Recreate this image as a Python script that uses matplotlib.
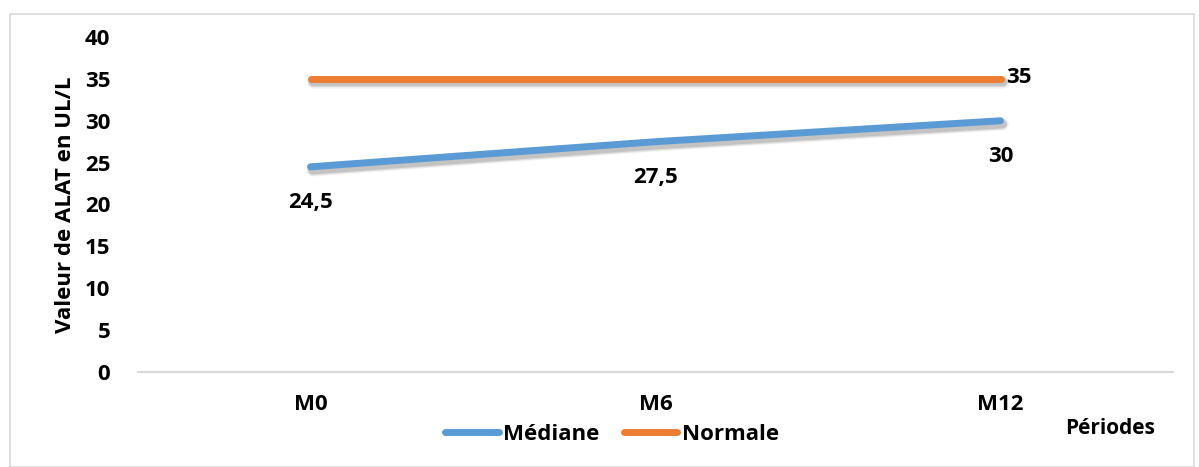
import matplotlib.pyplot as plt
import matplotlib.patheffects as pe
from matplotlib.patches import Rectangle

plt.rcParams['font.family'] = ['Open Sans', 'DejaVu Sans']
plt.rcParams['font.weight'] = 'bold'

periodes = ["M0", "M6", "M12"]
mediane = [24.5, 27.5, 30]
normale = [35, 35, 35]

blue = "#5b9bd5"
orange = "#ed7d31"
fs = 16

fig = plt.figure(figsize=(11.99, 4.67), dpi=100)
ax = fig.add_axes([138 / 1199, 1 - 372 / 467, (1173 - 138) / 1199, (372 - 37) / 467])

# gray frame around the whole chart area
fig.patches.append(Rectangle((10 / 1199, 0), 1184 / 1199, 1 - 14 / 467,
                             transform=fig.transFigure, fill=False,
                             edgecolor="#d9d9d9", linewidth=1.2))

x = range(len(periodes))
# soft drop shadow: a few offset gray strokes of growing width
shadow = [pe.Stroke(offset=(1.5, -2.5), linewidth=lw, foreground="black", alpha=a)
          for lw, a in [(9, 0.05), (7.5, 0.08), (6, 0.12)]] + [pe.Normal()]
ax.plot(x, mediane, color=blue, lw=5, solid_capstyle="round", label="Médiane",
        path_effects=shadow)
ax.plot(x, normale, color=orange, lw=5, solid_capstyle="round", label="Normale",
        path_effects=shadow)

for i, v in enumerate(mediane):
    ax.annotate(f"{v:g}".replace(".", ","), (i, v), xytext=(0, -26),
                textcoords="offset points", ha="center", va="center",
                fontsize=fs, fontweight="bold")
ax.annotate(f"{normale[-1]:g}", (2, normale[-1]), xytext=(13, 1),
            textcoords="offset points", ha="center", va="center",
            fontsize=fs, fontweight="bold")

ax.set_xlim(-0.5, 2.5)
ax.set_ylim(0, 40)
ax.set_yticks(range(0, 41, 5))
ax.set_xticks(list(x))
ax.set_xticklabels(periodes, fontweight="bold")
for t in ax.get_yticklabels():
    t.set_fontweight("bold")
ax.tick_params(axis="both", length=0, labelsize=fs)
ax.tick_params(axis="y", pad=20)
ax.tick_params(axis="x", pad=16)

for s in ["top", "right", "left"]:
    ax.spines[s].set_visible(False)
ax.spines["bottom"].set_color("#d9d9d9")
ax.spines["bottom"].set_linewidth(1.5)

ax.set_ylabel("Valeur de ALAT en UL/L", fontsize=fs, fontweight="bold", labelpad=6)
fig.text(1110 / 1199, 1 - 428 / 467, "Périodes", fontsize=15, fontweight="bold",
         ha="center", va="center")

leg = fig.legend(loc="center", bbox_to_anchor=(612 / 1199, 1 - 434 / 467), ncol=2,
                 frameon=False, prop={"size": fs, "weight": "bold"},
                 handlelength=2.4, handletextpad=0.2, columnspacing=1.1)
for line in leg.get_lines():
    line.set_linewidth(5)
    line.set_solid_capstyle("round")
    line.set_path_effects([])

fig.savefig("out.png", dpi=100)
